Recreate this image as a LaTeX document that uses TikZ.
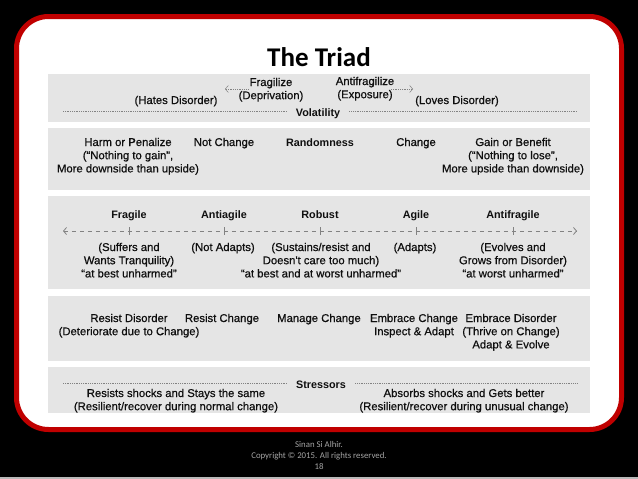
\documentclass[tikz,border=0pt]{standalone}
\usepackage{fontspec}
\setmainfont{Liberation Sans}
\newfontfamily\slidefont{Carlito}
\newfontfamily\inkfont[FakeBold=0.6]{Liberation Sans}
\usetikzlibrary{arrows.meta}

\definecolor{slidered}{RGB}{192,0,0}
\definecolor{bandgray}{RGB}{229,229,229}
\definecolor{inkgray}{RGB}{15,15,15}
\definecolor{dotgray}{RGB}{130,130,130}
\definecolor{footgray}{RGB}{165,165,165}

\begin{document}
\begin{tikzpicture}[x=1pt,y=-1pt]
		\tikzstyle {band} = [fill=bandgray, draw=none]
		\tikzstyle {txt} = [inner sep=0pt, anchor=base, align=center, text=inkgray, font=\inkfont\fontsize{11.3}{13.2}\selectfont]
		\tikzstyle {head} = [txt, font=\normalfont\fontsize{10.8}{13}\selectfont\bfseries]
		\tikzstyle {dot line} = [dotgray, line width=0.5pt, dash pattern=on 0.5pt off 1.3pt]
		\tikzstyle {dash line} = [dotgray, line width=0.8pt, dash pattern=on 4.5pt off 3.5pt]
		\tikzstyle {barb} = [-{Straight Barb[length=3pt,width=7pt]}]

		\fill[black] (0,0) rectangle (638,479);
		\useasboundingbox (0,0) rectangle (638,479);
		\fill[gray!55] (0,477) rectangle (638,479);
		\draw[slidered, line width=5pt, fill=white, rounded corners=32pt] (16.5,16.5) rectangle (621.5,429.5);

		\fill[band] (48,74) rectangle (590,122);
		\fill[band] (48,128) rectangle (590,190);
		\fill[band] (48,196) rectangle (590,289);
		\fill[band] (48,296) rectangle (590,361);
		\fill[band] (48,367) rectangle (590,413);

		\node[font=\slidefont\fontsize{27}{30}\selectfont\bfseries, text=black] (title) at (319,57) {The Triad};

		% multi-line nodes sit on the baseline of their last line
		\node[txt] (fragilize) at (271,99.2) {Fragilize\\(Deprivation)};
		\node[txt] (antifragilize) at (365,98.2) {Antifragilize\\(Exposure)};
		\node[txt] (hates) at (176,104) {(Hates Disorder)};
		\node[txt] (loves) at (457,104) {(Loves Disorder)};
		\node[head] (volatility) at (318,116) {Volatility};
		\coordinate (volL) at (63,111);
		\coordinate (volR) at (577,111);
		\draw[dot line] (volL) -- ([xshift=-9pt]volatility.west |- volL);
		\draw[dot line] ([xshift=9pt]volatility.east |- volR) -- (volR);
		\coordinate (fzTail) at (248,89);
		\coordinate (fzTip) at (225,89);
		\coordinate (afTail) at (391,89);
		\coordinate (afTip) at (413,89);
		\draw[dot line, barb] (fzTail) -- (fzTip);
		\draw[dot line, barb] (afTail) -- (afTip);

		\node[txt] (harm) at (128,172.4) {Harm or Penalize\\(“Nothing to gain”,\\More downside than upside)};
		\node[txt] (notchange) at (224,146) {Not Change};
		\node[head] (randomness) at (320,146) {Randomness};
		\node[txt] (change) at (416,146) {Change};
		\node[txt] (gain) at (513,172.4) {Gain or Benefit\\(“Nothing to lose”,\\More upside than downside)};

		\node[head] (fragile) at (129,218) {Fragile};
		\node[head] (antiagile) at (224,218) {Antiagile};
		\node[head] (robust) at (320,218) {Robust};
		\node[head] (agile) at (416,218) {Agile};
		\node[head] (antifragile) at (513,218) {Antifragile};
		\coordinate (axL) at (63,231);
		\coordinate (axR) at (577,231);
		\draw[dash line, {Straight Barb[length=3pt,width=7pt]}-{Straight Barb[length=3pt,width=7pt]}] (axL) -- (axR);
		\foreach \n in {fragile,antiagile,robust,agile,antifragile}
			\draw[dotgray, line width=0.8pt] (\n |- axL) +(0,-4) -- +(0,4);
		\node[txt] (suffers) at (129,277.4) {(Suffers and\\Wants Tranquility)\\“at best unharmed”};
		\node[txt] (notadapts) at (223,251) {(Not Adapts)};
		\node[txt] (sustains) at (321,277.4) {(Sustains/resist and\\Doesn't care too much)\\“at best and at worst unharmed”};
		\node[txt] (adapts) at (415,251) {(Adapts)};
		\node[txt] (evolves) at (513,277.4) {(Evolves and\\Grows from Disorder)\\“at worst unharmed”};

		\node[txt] (resistdis) at (129,335.2) {Resist Disorder\\(Deteriorate due to Change)};
		\node[txt] (resistch) at (222,322) {Resist Change};
		\node[txt] (manage) at (319,322) {Manage Change};
		\node[txt] (embracech) at (414,335.2) {Embrace Change\\Inspect \& Adapt};
		\node[txt] (embracedis) at (511,348.4) {Embrace Disorder\\(Thrive on Change)\\Adapt \& Evolve};

		\node[head] (stressors) at (321,388) {Stressors};
		\coordinate (stL) at (63,383);
		\coordinate (stR) at (577,383);
		\draw[dot line] (stL) -- ([xshift=-9pt]stressors.west |- stL);
		\draw[dot line] ([xshift=9pt]stressors.east |- stR) -- (stR);
		\node[txt] (resists) at (176,410.2) {Resists shocks and Stays the same\\(Resilient/recover during normal change)};
		\node[txt] (absorbs) at (464,410.2) {Absorbs shocks and Gets better\\(Resilient/recover during unusual change)};

		\node[font=\slidefont\fontsize{8.8}{11}\selectfont, text=footgray, align=center, inner sep=0pt] (footer) at (319,455) {Sinan Si Alhir.\\Copyright © 2015. All rights reserved.\\18};
	\end{tikzpicture}
\end{document}
